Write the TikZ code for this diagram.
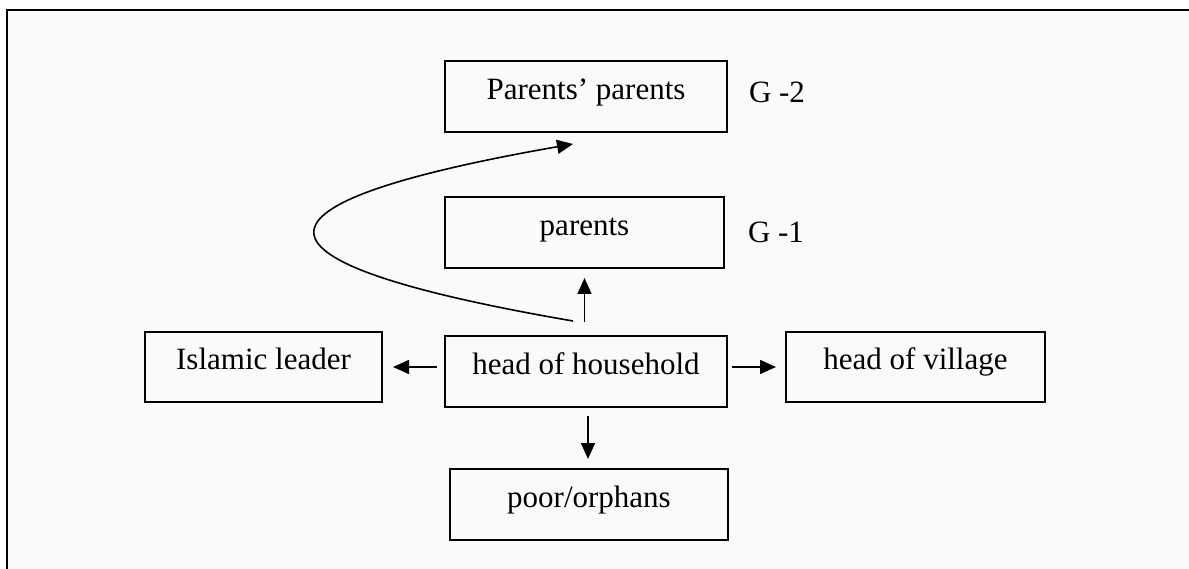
\documentclass[tikz,border=0pt]{standalone}
\usepackage{fontspec}
\setmainfont{Liberation Serif}
\usetikzlibrary{arrows.meta,calc}

\definecolor{panel}{RGB}{249,251,251}

\tikzset{
  box/.style={draw, line width=2pt, minimum height=71pt, inner sep=0pt,
    font=\fontsize{31}{36}\selectfont, text height=16pt, text depth=10pt},
  gen/.style={font=\fontsize{31}{36}\selectfont, inner sep=0pt},
  arr/.style={line width=1.6pt, -{Triangle[length=16pt,width=14pt]}},
}

\begin{document}
\begin{tikzpicture}[x=1pt,y=-1pt]
  \useasboundingbox (0,0) rectangle (1189,569);

  % panel with its left and top rule
  \fill[panel] (7,10) rectangle (1189,569);
  \draw[line width=2pt] (7,569) -- (7,10) -- (1189,10);

  % boxes
  \node[box, minimum width=282pt] (pp)  at (586,96.5)  {Parents’ parents};
  \node[box, minimum width=279pt] (par) at (584.5,232.5) {parents};
  \node[box, minimum width=282pt] (hh)  at (586,371.5) {head of household};
  \node[box, minimum width=237pt, minimum height=70pt] (il) at (263.5,367) {Islamic leader};
  \node[box, minimum width=259pt, minimum height=70pt] (hv) at (915.5,367) {head of village};
  \node[box, minimum width=278pt] (po)  at (589,504.5) {poor/orphans};

  % generation labels
  \node[gen] (g2) at (777,92)  {G -2};
  \node[gen] (g1) at (776,232) {G -1};

  % connectors
  \draw[arr, shorten <=7pt, shorten >=10pt] (hh.west |- il.east) -- (il.east);
  \draw[arr, shorten <=4pt, shorten >=9pt] (hh.east |- hv.west) -- (hv.west);
  \draw[arr, shorten <=8pt, shorten >=9pt] ($(hh.south)+(2,0)$) -- ($(po.north)+(-1,0)$);
  \draw[arr, shorten <=13pt, shorten >=9pt] (hh.north -| par.south) -- (par.south);
  \draw[arr] ($(hh.north)+(-13,-14)$) .. controls (230,262) and (230,204) .. ($(pp.south)+(-13,11)$);
\end{tikzpicture}
\end{document}
